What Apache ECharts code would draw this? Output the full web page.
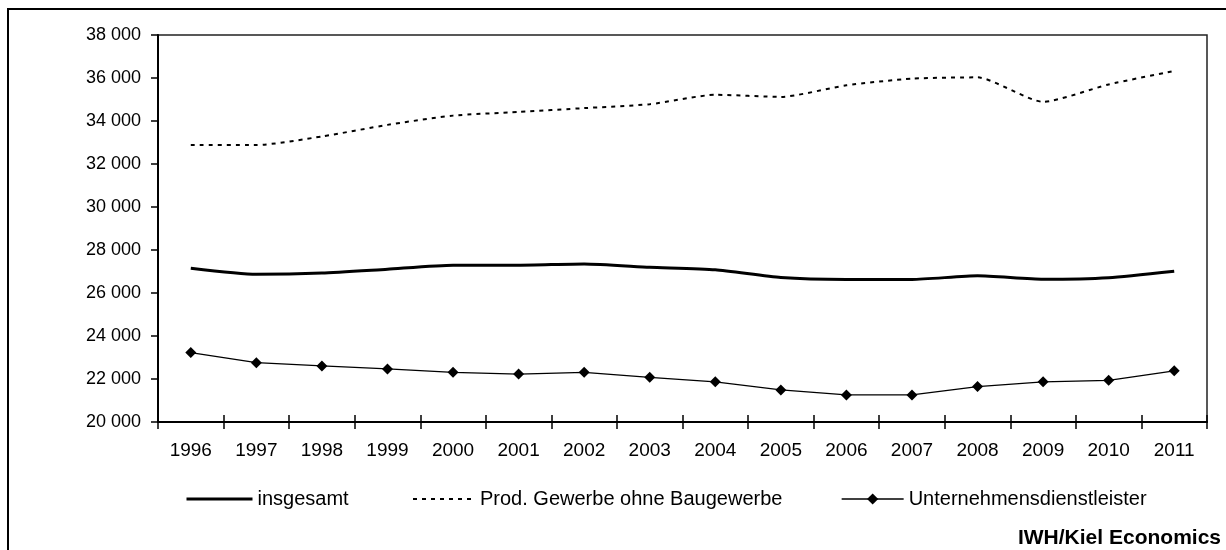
<!DOCTYPE html>
<html>
<head>
<meta charset="utf-8">
<script src="https://cdn.jsdelivr.net/npm/echarts@6/dist/echarts.min.js"></script>
<style>
html,body{margin:0;padding:0;background:#fff;}
#chart{width:1226px;height:550px;}
</style>
</head>
<body>
<div id="chart"></div>
<script>
const years = ['1996','1997','1998','1999','2000','2001','2002','2003','2004','2005','2006','2007','2008','2009','2010','2011'];
const seriesNames = ['insgesamt', 'Prod. Gewerbe ohne Baugewerbe', 'Unternehmensdienstleister'];
const insgesamt = [27150, 26870, 26930, 27110, 27290, 27290, 27350, 27200, 27080, 26720, 26630, 26630, 26800, 26640, 26710, 27010];
const prodGewerbe = [32880, 32880, 33280, 33820, 34250, 34420, 34600, 34780, 35220, 35120, 35660, 35970, 36030, 34890, 35700, 36330];
const unternehmensDL = [23230, 22760, 22610, 22470, 22310, 22230, 22310, 22080, 21870, 21490, 21260, 21260, 21650, 21870, 21940, 22380];
const yMin = 20000, yMax = 38000, yStep = 2000;
const sourceText = 'IWH/Kiel Economics';

const font = 'Liberation Sans, Arial, sans-serif';
const fmt = v => String(v).replace(/\B(?=(\d{3})+(?!\d))/g, ' ');

const chart = echarts.init(document.getElementById('chart'), null, {renderer: 'canvas'});
const legendBase = {
  top: 489, padding: 0, itemHeight: 14,
  textStyle: {fontFamily: font, fontSize: 20, color: '#000'},
  selectedMode: false
};
chart.setOption({
  animation: false,
  backgroundColor: '#fff',
  title: {
    text: sourceText, right: 5, top: 528, padding: 0,
    textStyle: {fontFamily: font, fontSize: 21, fontWeight: 'bold', color: '#000'}
  },
  graphic: [{
    type: 'rect', silent: true, z: 100,
    shape: {x: 8, y: 9, width: 1400, height: 800},
    style: {fill: 'none', stroke: '#000', lineWidth: 2}
  }],
  legend: [
    Object.assign({}, legendBase, {left: 185, itemWidth: 66,
      data: [{name: seriesNames[0], itemStyle: {opacity: 0}, lineStyle: {width: 3}}]}),
    Object.assign({}, legendBase, {left: 412, itemWidth: 62,
      data: [{name: seriesNames[1], itemStyle: {opacity: 0}, lineStyle: {width: 2}}]}),
    Object.assign({}, legendBase, {left: 841, itemWidth: 62,
      data: [{name: seriesNames[2], lineStyle: {width: 1.3}}]})
  ],
  grid: {
    left: 158, right: 19, top: 35, bottom: 128,
    show: true, borderColor: '#222', borderWidth: 1.5, backgroundColor: 'transparent'
  },
  xAxis: [{
    type: 'category', data: years, boundaryGap: true,
    axisLine: {lineStyle: {color: '#000', width: 2}},
    axisTick: {show: true, inside: false, length: 7, lineStyle: {color: '#000', width: 1.5}},
    axisLabel: {color: '#000', fontFamily: font, fontSize: 19, margin: 19, interval: 0},
    splitLine: {show: false}
  }, {
    type: 'category', data: years, boundaryGap: true, position: 'bottom',
    axisLine: {show: false},
    axisTick: {show: true, inside: true, length: 7, lineStyle: {color: '#000', width: 1.5}},
    axisLabel: {show: false},
    splitLine: {show: false}
  }],
  yAxis: {
    type: 'value', min: yMin, max: yMax, interval: yStep,
    axisLine: {show: true, lineStyle: {color: '#000', width: 2}},
    axisTick: {show: true, length: 7, lineStyle: {color: '#000', width: 1.5}},
    axisLabel: {color: '#000', fontFamily: font, fontSize: 18, margin: 17, formatter: fmt},
    splitLine: {show: false}
  },
  series: [{
    name: seriesNames[0], type: 'line', data: insgesamt,
    symbol: 'none', smooth: 0.2,
    lineStyle: {color: '#000', width: 3},
    itemStyle: {color: '#000'}
  }, {
    name: seriesNames[1], type: 'line', data: prodGewerbe,
    symbol: 'none', smooth: 0.2,
    lineStyle: {color: '#000', width: 2, type: [4, 5]},
    itemStyle: {color: '#000'}
  }, {
    name: seriesNames[2], type: 'line', data: unternehmensDL,
    symbol: 'diamond', symbolSize: 11, showSymbol: true,
    lineStyle: {color: '#000', width: 1.3},
    itemStyle: {color: '#000'}
  }]
});
</script>
</body>
</html>
